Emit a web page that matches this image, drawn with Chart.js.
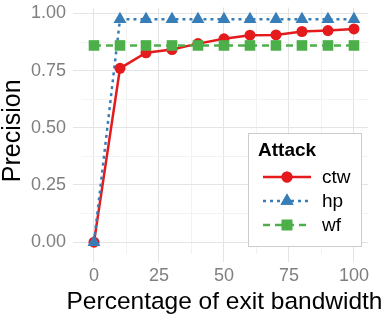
<!DOCTYPE html>
<html>
<head>
<meta charset="utf-8">
<script src="https://cdn.jsdelivr.net/npm/chart.js@4.4.1/dist/chart.umd.min.js"></script>
<style>
  html, body { margin: 0; padding: 0; background: #ffffff; }
  #wrap { width: 386px; height: 317px; position: relative; }
</style>
</head>
<body>
<div id="wrap"><canvas id="c" width="386" height="317"></canvas></div>
<script>
// ---- Data ----
const exitBandwidth = [0, 10, 20, 30, 40, 50, 60, 70, 80, 90, 100];
const seriesNames = ["ctw", "hp", "wf"];
const ctwPrecision = [0, 0.76, 0.828, 0.842, 0.868, 0.889, 0.905, 0.906, 0.921, 0.925, 0.932];
const hpPrecision  = [0, 0.975, 0.975, 0.975, 0.975, 0.975, 0.975, 0.975, 0.975, 0.975, 0.975];
const wfPrecision  = [0.86, 0.86, 0.86, 0.86, 0.86, 0.86, 0.86, 0.86, 0.86, 0.86, 0.86];
const xMajorTicks = [0, 25, 50, 75, 100];
const xMinorTicks = [12.5, 37.5, 62.5, 87.5];
const yMajorTicks = [0, 0.25, 0.5, 0.75, 1.0];
const yMinorTicks = [0.125, 0.375, 0.625, 0.875];
const legendTitle = "Attack";
const xTitle = "Percentage of exit bandwidth";
const yTitle = "Precision";

// ---- Styles ----
const FONT = "'Liberation Sans', Arial, Helvetica, sans-serif";
const styles = {
  ctw: { color: "#E41A1C", dash: [], point: "circle", radius: 5.5 },
  hp:  { color: "#377EB8", dash: [3, 4], point: "triangle", radius: 7.5 },
  wf:  { color: "#4DAF4A", dash: [7, 5], point: "rect", radius: 7.5 }
};
const values = { ctw: ctwPrecision, hp: hpPrecision, wf: wfPrecision };
const toXY = arr => arr.map((v, i) => ({ x: exitBandwidth[i], y: v }));

const datasets = [];
// lines first (drawn underneath), then points (ggplot layer order)
seriesNames.forEach((name, i) => {
  const s = styles[name];
  datasets.push({
    label: name + "-line",
    data: toXY(values[name]),
    borderColor: s.color,
    borderWidth: 2.5,
    borderDash: s.dash,
    pointRadius: 0,
    fill: false,
    tension: 0,
    order: 10 - i
  });
});
seriesNames.forEach((name, i) => {
  const s = styles[name];
  datasets.push({
    label: name,
    data: toXY(values[name]),
    showLine: false,
    pointStyle: s.point,
    pointRadius: s.radius,
    pointBackgroundColor: s.color,
    pointBorderColor: s.color,
    pointBorderWidth: 0,
    order: 5 - i
  });
});

const majorGrid = "#e4e4e4";
const minorGrid = "#f2f2f2";

function isMajor(list, v) { return list.some(t => Math.abs(t - v) < 1e-9); }

// x-axis title drawn centred under the panel (not squeezed to panel width)
const xTitlePlugin = {
  id: "xTitle",
  afterDraw(chart) {
    const ctx = chart.ctx;
    const a = chart.chartArea;
    ctx.save();
    ctx.fillStyle = "#000000";
    ctx.font = "24.5px " + FONT;
    ctx.textAlign = "center";
    ctx.textBaseline = "middle";
    ctx.fillText(xTitle, (a.left + a.right) / 2, 302);
    ctx.restore();
  }
};

const legendPlugin = {
  id: "ggLegend",
  afterDraw(chart) {
    const ctx = chart.ctx;
    const bx = 248.5, by = 133.5, bw = 113, bh = 113;
    ctx.save();
    ctx.fillStyle = "#ffffff";
    ctx.fillRect(bx, by, bw, bh);
    ctx.strokeStyle = "#cccccc";
    ctx.lineWidth = 1;
    ctx.strokeRect(bx, by, bw, bh);
    ctx.fillStyle = "#000000";
    ctx.font = "bold 19px " + FONT;
    ctx.textBaseline = "middle";
    ctx.textAlign = "left";
    ctx.fillText(legendTitle, 258, 151);
    const rows = [177, 201, 225];
    seriesNames.forEach((name, i) => {
      const s = styles[name];
      const y = rows[i];
      ctx.save();
      ctx.strokeStyle = s.color;
      ctx.lineWidth = 2.5;
      ctx.setLineDash(s.dash);
      ctx.beginPath();
      ctx.moveTo(263, y);
      ctx.lineTo(311, y);
      ctx.stroke();
      ctx.restore();
      ctx.fillStyle = s.color;
      Chart.helpers.drawPoint(ctx, {
        pointStyle: s.point, radius: s.radius, rotation: 0, borderWidth: 0
      }, 287, y);
      ctx.fill();
      ctx.fillStyle = "#000000";
      ctx.font = "19px " + FONT;
      ctx.fillText(name, 322, y + 1);
    });
    ctx.restore();
  }
};

new Chart(document.getElementById("c"), {
  type: "line",
  data: { datasets },
  plugins: [legendPlugin, xTitlePlugin],
  options: {
    responsive: false,
    animation: false,
    events: [],
    clip: false,
    layout: { padding: { left: 0, right: 18, top: 4, bottom: 0 } },
    plugins: { legend: { display: false }, tooltip: { enabled: false } },
    scales: {
      x: {
        type: "linear",
        min: -5,
        max: 105.4,
        afterBuildTicks: s => {
          s.ticks = xMajorTicks.concat(xMinorTicks).sort((a, b) => a - b).map(v => ({ value: v }));
        },
        afterFit: s => { s.height = 63; s.paddingLeft = 0; s.paddingRight = 0; },
        border: { display: false },
        grid: {
          drawTicks: true,
          tickLength: 8,
          color: c => isMajor(xMajorTicks, c.tick.value) ? majorGrid : minorGrid,
          tickColor: c => isMajor(xMajorTicks, c.tick.value) ? majorGrid : "rgba(0,0,0,0)",
          lineWidth: 1
        },
        ticks: {
          autoSkip: false,
          maxRotation: 0,
          padding: 3,
          color: "#7f7f7f",
          font: { family: FONT, size: 18 },
          callback: v => isMajor(xMajorTicks, v) ? String(v) : ""
        },
        title: { display: false }
      },
      y: {
        type: "linear",
        min: -0.0517,
        max: 1.0259,
        afterBuildTicks: s => {
          s.ticks = yMajorTicks.concat(yMinorTicks).sort((a, b) => a - b).map(v => ({ value: v }));
        },
        afterFit: s => { s.width = 81; s.paddingTop = 0; s.paddingBottom = 0; },
        border: { display: false },
        grid: {
          drawTicks: true,
          tickLength: 8,
          color: c => isMajor(yMajorTicks, c.tick.value) ? majorGrid : minorGrid,
          tickColor: c => isMajor(yMajorTicks, c.tick.value) ? majorGrid : "rgba(0,0,0,0)",
          lineWidth: 1
        },
        ticks: {
          autoSkip: false,
          padding: 7,
          color: "#7f7f7f",
          font: { family: FONT, size: 18 },
          callback: v => isMajor(yMajorTicks, v) ? v.toFixed(2) : ""
        },
        title: {
          display: true,
          text: yTitle,
          color: "#000000",
          font: { family: FONT, size: 25, lineHeight: 1.05 },
          padding: { top: 0, bottom: 0 }
        }
      }
    }
  }
});
</script>
</body>
</html>
